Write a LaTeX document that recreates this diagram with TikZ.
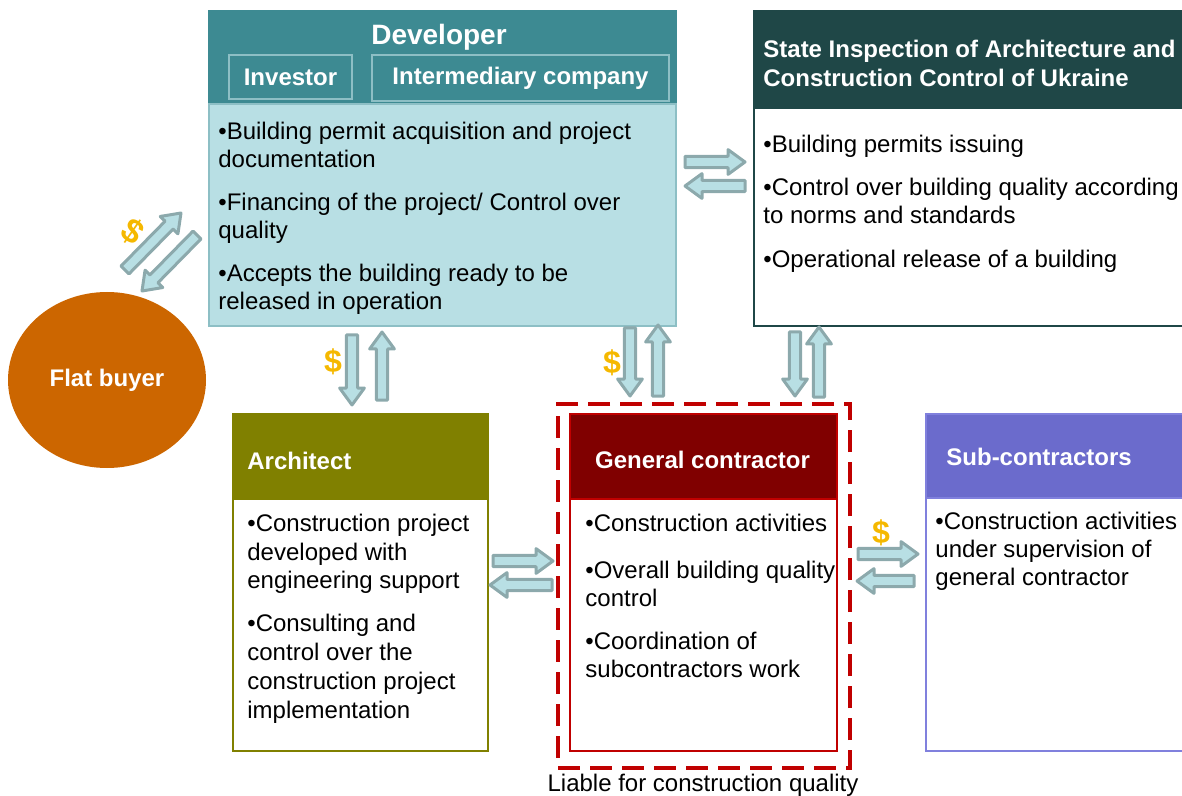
\documentclass[tikz,border=0pt]{standalone}
\usepackage{fontspec}
\setmainfont{Liberation Sans}
\usetikzlibrary{positioning,calc,shapes.geometric}

\definecolor{devteal}{HTML}{3D8A92}
\definecolor{devlight}{HTML}{B8DFE4}
\definecolor{devframe}{HTML}{8DBFC5}
\definecolor{stategreen}{HTML}{1F4747}
\definecolor{archolive}{HTML}{808000}
\definecolor{gcred}{HTML}{800000}
\definecolor{gcframe}{HTML}{C00000}
\definecolor{subpurple}{HTML}{6B6BCC}
\definecolor{subframe}{HTML}{8080DD}
\definecolor{buyerorange}{HTML}{CC6600}
\definecolor{arrowfill}{HTML}{B8DFE4}
\definecolor{arrowline}{HTML}{8CA9AC}
\definecolor{dollargold}{HTML}{F5B800}

\tikzset{
  headbox/.style={draw=#1, fill=#1, line width=1pt, anchor=north west, inner sep=0pt},
  bodybox/.style={draw=#1, fill=white, line width=1pt, anchor=north west, inner sep=0pt},
  headtext/.style={text=white, font=\bfseries\fontsize{12}{14.5}\selectfont, inner sep=0pt},
  items/.style={align=left, anchor=north west, inner sep=0pt, font=\fontsize{12}{14}\selectfont},
  subbox/.style={draw=devframe, line width=1pt, inner sep=0pt},
  flow/.style={draw=arrowline, fill=arrowfill, line width=1.5pt, line join=round},
  dollar/.style={text=dollargold, font=\bfseries\fontsize{16}{16}\selectfont, inner sep=0pt}
}

\newcommand{\blockarrow}[2]{%
  \coordinate (hb) at ($(#2)!8.5pt!(#1)$);
  \draw[flow] ($(#1)!2.8pt!90:(#2)$) -- ($(hb)!2.8pt!90:(#2)$) -- ($(hb)!6.2pt!90:(#2)$) -- (#2)
    -- ($(hb)!6.2pt!-90:(#2)$) -- ($(hb)!2.8pt!-90:(#2)$) -- ($(#1)!2.8pt!-90:(#2)$) -- cycle;}

\begin{document}
\begin{tikzpicture}[x=0.5pt,y=-0.5pt]
\useasboundingbox (0,0) rectangle (1182,796);

% developer
\node[headbox=devteal, minimum width=233.5pt, minimum height=46.5pt] (devhead) at (208,10) {};
\node[bodybox=devframe, fill=devlight, minimum width=233.5pt, minimum height=111pt] (devbody) at (208,103) {};
\node[headtext, font=\bfseries\fontsize{14}{16}\selectfont] (devtitle) at (439,37) {Developer};
\node[subbox, headtext, minimum width=61.5pt, minimum height=22pt] (investor) at (290.5,77) {Investor};
\node[subbox, headtext, minimum width=148.5pt, minimum height=23pt] (interm) at (520.5,78) {Intermediary company};
\node[items] (devitems) at (218,121.5) {•Building permit acquisition and project\\documentation\\[7.5pt]
  •Financing of the project/ Control over\\quality\\[7.5pt]
  •Accepts the building ready to be\\released in operation};

% state inspection
\node[headbox=stategreen, minimum width=216pt, minimum height=48.5pt] (statehead) at (753,10) {};
\node[bodybox=stategreen, minimum width=216pt, minimum height=109pt] (statebody) at (753,107) {};
\node[headtext, align=left, anchor=north west] (statetitle) at (763,39.5) {State Inspection of Architecture and\\Construction Control of Ukraine};
\node[items] (stateitems) at (763,134.5) {•Building permits issuing\\[7.5pt]
  •Control over building quality according\\to norms and standards\\[8pt]
  •Operational release of a building};

% flat buyer
\node[ellipse, fill=buyerorange, minimum width=99pt, minimum height=88pt, headtext] (buyer) at (107,380) {Flat buyer};

% architect
\node[headbox=archolive, minimum width=127.5pt, minimum height=42.5pt] (archhead) at (232,413) {};
\node[bodybox=archolive, minimum width=127.5pt, minimum height=126pt] (archbody) at (232,498) {};
\node[headtext, anchor=west] (archtitle) at (247,461) {Architect};
\node[items, font=\fontsize{12}{14.4}\selectfont] (architems) at (247,513.5) {•Construction project\\developed with\\engineering support\\[7pt]
  •Consulting and\\control over the\\construction project\\implementation};

% general contractor
\node[draw=gcframe, dash pattern=on 11pt off 5pt, line width=2pt, anchor=north west, minimum width=146pt, minimum height=182pt] (liable) at (556,402) {};
\node[headbox=gcred, draw=gcframe, minimum width=133.5pt, minimum height=42.5pt] (gchead) at (569,413) {};
\node[bodybox=gcframe, minimum width=133.5pt, minimum height=126pt] (gcbody) at (569,498) {};
\node[headtext] (gctitle) at (702.5,460) {General contractor};
\node[items] (gcitems) at (585,513.5) {•Construction activities\\[9.5pt]
  •Overall building quality\\control\\[7.5pt]
  •Coordination of\\subcontractors work};
\node[font=\fontsize{12}{14}\selectfont, inner sep=0pt] (liabletext) at (703,785) {Liable for construction quality};

% sub-contractors
\node[headbox=subpurple, draw=subframe, minimum width=130pt, minimum height=42pt] (subhead) at (925,413) {};
\node[bodybox=subframe, minimum width=130pt, minimum height=126.5pt] (subbody) at (925,497) {};
\node[headtext, anchor=west] (subtitle) at (946,457) {Sub-contractors};
\node[items] (subitems) at (935,511.5) {•Construction activities\\under supervision of\\general contractor};

% arrows
\coordinate (ds1) at (685,162); \coordinate (ds2) at (745,162);
\coordinate (sd1) at (745,186); \coordinate (sd2) at (685,186);
\coordinate (da1) at (352,335); \coordinate (da2) at (352,405);
\coordinate (ad1) at (382,400); \coordinate (ad2) at (382,332);
\coordinate (dg1) at (630,328); \coordinate (dg2) at (630,396);
\coordinate (gd1) at (658,396); \coordinate (gd2) at (658,325);
\coordinate (sg1) at (795,332); \coordinate (sg2) at (795,396);
\coordinate (gs1) at (819,397); \coordinate (gs2) at (819,327);
\coordinate (ag1) at (493,561); \coordinate (ag2) at (553,561);
\coordinate (ga1) at (552,585); \coordinate (ga2) at (490,585);
\coordinate (gu1) at (858,554); \coordinate (gu2) at (918,554);
\coordinate (ug1) at (914,581); \coordinate (ug2) at (857,581);
\coordinate (bd1) at (125,270); \coordinate (bd2) at (181,213);
\coordinate (db1) at (197,235); \coordinate (db2) at (142,291);
\blockarrow{ds1}{ds2}
\blockarrow{sd1}{sd2}
\blockarrow{da1}{da2}
\blockarrow{ad1}{ad2}
\blockarrow{dg1}{dg2}
\blockarrow{gd1}{gd2}
\blockarrow{sg1}{sg2}
\blockarrow{gs1}{gs2}
\blockarrow{ag1}{ag2}
\blockarrow{ga1}{ga2}
\blockarrow{gu1}{gu2}
\blockarrow{ug1}{ug2}
\blockarrow{bd1}{bd2}
\blockarrow{db1}{db2}

% payments
\node[dollar, rotate=-35, font=\bfseries\fontsize{17}{17}\selectfont] (usd1) at (133,232) {\$};
\node[dollar] (usd2) at (333,362) {\$};
\node[dollar] (usd3) at (612,363) {\$};
\node[dollar] (usd4) at (881,533) {\$};
\end{tikzpicture}
\end{document}
